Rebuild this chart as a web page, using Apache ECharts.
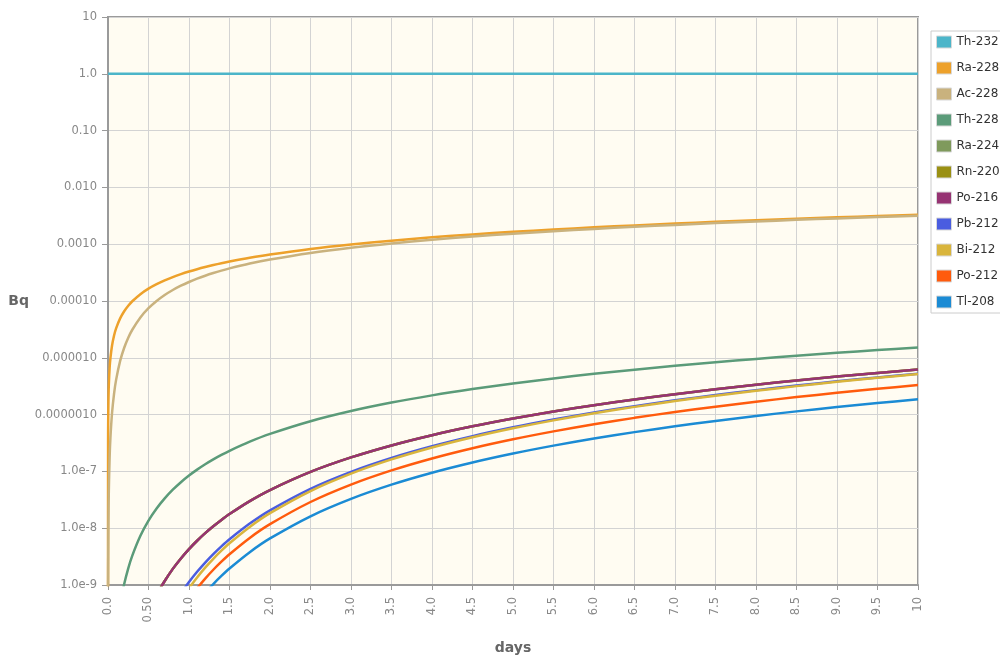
<!DOCTYPE html>
<html>
<head>
<meta charset="utf-8">
<script src="https://cdn.jsdelivr.net/npm/echarts/dist/echarts.min.js"></script>
<style>
html,body{margin:0;padding:0;background:#ffffff;}
#chart{width:1000px;height:657px;}
</style>
</head>
<body>
<div id="chart"></div>
<script>
// time in days
const days = [0.000001, 0.001, 0.002, 0.005, 0.01, 0.02, 0.03, 0.05, 0.075, 0.1, 0.15, 0.2, 0.25, 0.3, 0.4, 0.5, 0.6, 0.7, 0.8, 0.9, 1.0, 1.1, 1.2, 1.3, 1.4, 1.5, 1.75, 2, 2.5, 3, 3.5, 4, 4.5, 5, 5.5, 6, 6.5, 7, 7.5, 8, 8.5, 9, 9.5, 10];

const xTickLabels = ['0.0','0.50','1.0','1.5','2.0','2.5','3.0','3.5','4.0','4.5','5.0','5.5','6.0','6.5','7.0','7.5','8.0','8.5','9.0','9.5','10'];
const yTickLabels = ['1.0e-9','1.0e-8','1.0e-7','0.0000010','0.000010','0.00010','0.0010','0.010','0.10','1.0','10'];

const nuclides = ['Th-232','Ra-228','Ac-228','Th-228','Ra-224','Rn-220','Po-216','Pb-212','Bi-212','Po-212','Tl-208'];
const colors = ['#4cb5c9','#eda12b','#c9b27e','#5b9b79','#7f9a5c','#9a9013','#963373','#4a5de0','#d9b53c','#ff5b0d','#1b8bd4'];

const th232 = [1,1,1,1,1,1,1,1,1,1,1,1,1,1,1,1,1,1,1,1,1,1,1,1,1,1,1,1,1,1,1,1,1,1,1,1,1,1,1,1,1,1,1,1];
const ra228 = [3.3e-10,3.3e-7,6.6e-7,1.65e-6,3.3e-6,6.6e-6,9.9e-6,1.65e-5,2.475e-5,3.3e-5,4.95e-5,6.6e-5,8.25e-5,9.9e-5,1.32e-4,1.65e-4,1.98e-4,2.31e-4,2.64e-4,2.97e-4,3.3e-4,3.63e-4,3.96e-4,4.29e-4,4.62e-4,4.95e-4,5.775e-4,6.6e-4,8.25e-4,9.9e-4,1.155e-3,1.32e-3,1.485e-3,1.65e-3,1.815e-3,1.98e-3,2.145e-3,2.31e-3,2.475e-3,2.64e-3,2.805e-3,2.97e-3,3.135e-3,3.3e-3];
const ac228 = [4.5e-16,4.46e-10,1.785e-9,1.111e-8,4.423e-8,1.7535e-7,3.91e-7,1.0671e-6,2.349e-6,4.086e-6,8.811e-6,1.5025e-5,2.2541e-5,3.1193e-5,5.135e-5,7.455e-5,1.0007e-4,1.2737e-4,1.5602e-4,1.8569e-4,2.1616e-4,2.4723e-4,2.7875e-4,3.1063e-4,3.4277e-4,3.7511e-4,4.5658e-4,5.3855e-4,7.0314e-4,8.6804e-4,1.03301e-3,1.198e-3,1.363e-3,1.528e-3,1.693e-3,1.858e-3,2.023e-3,2.188e-3,2.353e-3,2.518e-3,2.683e-3,2.848e-3,3.013e-3,3.178e-3];
const th228 = [null,null,null,null,null,null,null,null,null,1.3821e-10,4.517e-10,1.0375e-9,1.9647e-9,3.2938e-9,7.362e-9,1.3589e-8,2.2239e-8,3.3514e-8,4.757e-8,6.452e-8,8.446e-8,1.0745e-7,1.3356e-7,1.6281e-7,1.9523e-7,2.3086e-7,3.3404e-7,4.5751e-7,7.6562e-7,1.15552e-6,1.62727e-6,2.18093e-6,2.81646e-6,3.53389e-6,4.33321e-6,5.21442e-6,6.17753e-6,7.22252e-6,8.3494e-6,9.55819e-6,1.08489e-5,1.22214e-5,1.36759e-5,1.52122e-5];
const ra224 = [null,null,null,null,null,null,null,null,null,null,null,null,null,null,1.45e-10,3.37e-10,6.65e-10,1.1754e-9,1.9228e-9,2.935e-9,4.2846e-9,6.013e-9,8.174e-9,1.0817e-8,1.3994e-8,1.7753e-8,3.003e-8,4.7018e-8,9.8015e-8,1.762e-7,2.8654e-7,4.3358e-7,6.2141e-7,8.5378e-7,1.1341e-6,1.4655e-6,1.8506e-6,2.2922e-6,2.7925e-6,3.3537e-6,3.9775e-6,4.6659e-6,5.4203e-6,6.2423e-6];
const rn220 = [null,null,null,null,null,null,null,null,null,null,null,null,null,null,1.45e-10,3.37e-10,6.65e-10,1.1754e-9,1.9228e-9,2.935e-9,4.2846e-9,6.013e-9,8.174e-9,1.0817e-8,1.3994e-8,1.7753e-8,3.003e-8,4.7018e-8,9.8015e-8,1.762e-7,2.8654e-7,4.3358e-7,6.2141e-7,8.5378e-7,1.1341e-6,1.4655e-6,1.8506e-6,2.2922e-6,2.7925e-6,3.3537e-6,3.9775e-6,4.6659e-6,5.4203e-6,6.2423e-6];
const po216 = [null,null,null,null,null,null,null,null,null,null,null,null,null,null,1.45e-10,3.37e-10,6.65e-10,1.1754e-9,1.9228e-9,2.935e-9,4.2846e-9,6.013e-9,8.174e-9,1.0817e-8,1.3994e-8,1.7753e-8,3.003e-8,4.7018e-8,9.8015e-8,1.762e-7,2.8654e-7,4.3358e-7,6.2141e-7,8.5378e-7,1.1341e-6,1.4655e-6,1.8506e-6,2.2922e-6,2.7925e-6,3.3537e-6,3.9775e-6,4.6659e-6,5.4203e-6,6.2423e-6];
const pb212 = [null,null,null,null,null,null,null,null,null,null,null,null,null,null,null,null,null,2.28e-10,4.25e-10,7.063e-10,1.1255e-9,1.7059e-9,2.4847e-9,3.4988e-9,4.7873e-9,6.391e-9,1.2066e-8,2.0668e-8,4.9474e-8,9.8406e-8,1.7284e-7,2.7779e-7,4.1789e-7,5.9735e-7,8.2005e-7,1.0895e-6,1.4089e-6,1.7811e-6,2.2088e-6,2.6945e-6,3.2402e-6,3.8479e-6,4.5196e-6,5.2568e-6];
const bi212 = [null,null,null,null,null,null,null,null,null,null,null,null,null,null,null,null,null,1.6e-10,3.126e-10,5.353e-10,8.766e-10,1.3606e-9,2.0219e-9,2.8954e-9,4.0202e-9,5.434e-9,1.0523e-8,1.8371e-8,4.5154e-8,9.1391e-8,1.6249e-7,2.6352e-7,3.9914e-7,5.7364e-7,7.9093e-7,1.0545e-6,1.3677e-6,1.7334e-6,2.1543e-6,2.6328e-6,3.1711e-6,3.7713e-6,4.4351e-6,5.1643e-6];
const po212 = [null,null,null,null,null,null,null,null,null,null,null,null,null,null,null,null,null,1.02e-10,2.003e-10,3.429e-10,5.616e-10,8.716e-10,1.2952e-9,1.8548e-9,2.5753e-9,3.481e-9,6.741e-9,1.1768e-8,2.8926e-8,5.8545e-8,1.0409e-7,1.6881e-7,2.5569e-7,3.6747e-7,5.0667e-7,6.7551e-7,8.7615e-7,1.1104e-6,1.38e-6,1.6866e-6,2.0314e-6,2.4159e-6,2.8411e-6,3.3083e-6];
const tl208 = [null,null,null,null,null,null,null,null,null,null,null,null,null,null,null,null,null,null,1.1235e-10,1.924e-10,3.15e-10,4.89e-10,7.267e-10,1.0406e-9,1.4449e-9,1.953e-9,3.782e-9,6.6025e-9,1.6228e-8,3.2846e-8,5.8399e-8,9.4709e-8,1.4345e-7,2.0617e-7,2.8426e-7,3.7899e-7,4.9155e-7,6.2298e-7,7.7426e-7,9.4623e-7,1.1397e-6,1.3554e-6,1.594e-6,1.8561e-6];

const seriesValues = [th232, ra228, ac228, th228, ra224, rn220, po216, pb212, bi212, po212, tl208];

function pts(arr) {
  return days.map((d, i) => [d, arr[i]]).filter(p => p[1] !== null);
}

const FONT = 'DejaVu Sans';
const chart = echarts.init(document.getElementById('chart'), null, { renderer: 'canvas' });

chart.setOption({
  animation: false,
  backgroundColor: '#ffffff',
  textStyle: { fontFamily: FONT },
  grid: {
    left: 108, right: 82, top: 17, bottom: 72,
    containLabel: false,
    outerBoundsMode: 'none',
    show: true,
    backgroundColor: '#fffcf2',
    borderColor: '#9a9a9a',
    borderWidth: 2
  },
  legend: {
    orient: 'vertical',
    left: 931, top: 31,
    padding: [4, 5, 4, 5],
    backgroundColor: '#ffffff',
    borderColor: '#cccccc',
    borderWidth: 1,
    icon: 'rect',
    itemWidth: 15, itemHeight: 12,
    itemGap: 12,
    itemStyle: { borderColor: '#d8d8d8', borderWidth: 1 },
    textStyle: { fontFamily: FONT, fontSize: 12, color: '#333333', lineHeight: 14, padding: [0, 0, 0, 0] },
    data: nuclides
  },
  xAxis: {
    type: 'value',
    min: 0, max: 10, interval: 0.5,
    name: 'days',
    nameLocation: 'middle',
    nameGap: 56,
    nameTextStyle: { fontFamily: FONT, fontSize: 14, fontWeight: 'bold', color: '#666666' },
    axisLine: { show: true, onZero: false, lineStyle: { color: '#9a9a9a', width: 2 } },
    axisTick: { show: true, length: 5, lineStyle: { color: '#9a9a9a' } },
    axisLabel: {
      rotate: 90, margin: 12,
      fontFamily: FONT, fontSize: 11.5, color: '#888888',
      formatter: v => xTickLabels[Math.round(v / 0.5)]
    },
    splitLine: { show: true, lineStyle: { color: '#d3d3d3', width: 1 } }
  },
  yAxis: {
    type: 'log',
    logBase: 10,
    min: 1e-9, max: 10,
    interval: 1,
    splitNumber: 10,
    name: 'Bq',
    nameLocation: 'middle',
    nameRotate: 0,
    nameGap: 74,
    nameTextStyle: { fontFamily: FONT, fontSize: 14, fontWeight: 'bold', color: '#666666' },
    axisLine: { show: true, lineStyle: { color: '#9a9a9a', width: 2 } },
    axisTick: { show: true, length: 6, lineStyle: { color: '#9a9a9a' } },
    axisLabel: {
      margin: 11,
      fontFamily: FONT, fontSize: 11.5, color: '#888888',
      formatter: v => yTickLabels[Math.round(Math.log10(v)) + 9]
    },
    splitLine: { show: true, lineStyle: { color: '#d3d3d3', width: 1 } }
  },
  series: nuclides.map((name, k) => ({
    name: name,
    type: 'line',
    data: pts(seriesValues[k]),
    showSymbol: false,
    symbol: 'none',
    clip: true,
    smooth: 0.3,
    color: colors[k],
    lineStyle: { width: 2.5, color: colors[k] },
    emphasis: { disabled: true }
  }))
});
</script>
</body>
</html>
